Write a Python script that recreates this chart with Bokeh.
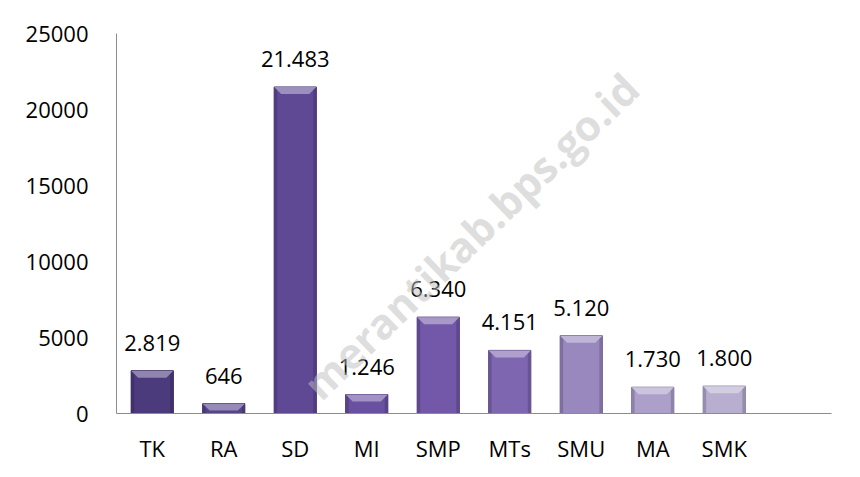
from bokeh.plotting import figure
from bokeh.models import Range1d, FixedTicker, ColumnDataSource, Label
from bokeh.embed import file_html
from bokeh.resources import INLINE
from bokeh.core.properties import value
import math

categories = ["TK", "RA", "SD", "MI", "SMP", "MTs", "SMU", "MA", "SMK"]
values = [2819, 646, 21483, 1246, 6340, 4151, 5120, 1730, 1800]
y_ticks = [0, 5000, 10000, 15000, 20000, 25000]
bar_colors = ["#4B3A7C", "#56438A", "#5F4894", "#6950A0", "#7357A8",
              "#7E66B0", "#9888BE", "#ACA0CA", "#B8AED0"]

FONT = "Open Sans"

def mix(hex_c, t, target=(255, 255, 255)):
    r, g, b = int(hex_c[1:3], 16), int(hex_c[3:5], 16), int(hex_c[5:7], 16)
    r = round(r + (target[0] - r) * t)
    g = round(g + (target[1] - g) * t)
    b = round(b + (target[2] - b) * t)
    return "#%02x%02x%02x" % (r, g, b)

n_slots = len(categories) + 1
xs = [i + 0.5 for i in range(len(categories))]
labels = [f"{v:,}".replace(",", ".") for v in values]

p = figure(width=851, height=469, output_backend="svg", toolbar_location=None,
           x_range=Range1d(0, n_slots), y_range=Range1d(y_ticks[0], y_ticks[-1]),
           min_border_left=116, min_border_right=20, min_border_top=33,
           min_border_bottom=56)
p.outline_line_color = None
p.xgrid.visible = False
p.ygrid.visible = False
p.background_fill_color = "white"
p.border_fill_color = "white"

bar_w = 0.59
src = ColumnDataSource(dict(x=xs, top=values, color=bar_colors,
                            edge=[mix(c, 0.35, (20, 10, 40)) for c in bar_colors],
                            label=labels))
p.vbar(x="x", top="top", bottom=0, width=bar_w, fill_color="color",
       line_color="edge", line_width=1, source=src)

# bevel: side shading and lighter top facet
px_y = (y_ticks[-1] - y_ticks[0]) / 380.0
px_x = 1.0 / 71.5
bev_h = 7 * px_y
bev_w = 7 * px_x
side_xs, side_ys, side_c = [], [], []
top_xs, top_ys, top_c = [], [], []
for x, v, c in zip(xs, values, bar_colors):
    l, r = x - bar_w / 2, x + bar_w / 2
    h = min(bev_h, v * 0.7)
    w = min(bev_w, bar_w / 2)
    top_xs.append([l, r, r - w, l + w])
    top_ys.append([v, v, v - h, v - h])
    top_c.append(mix(c, 0.38))
    side_xs.append([l, l + 3 * px_x, l + 3 * px_x, l])
    side_ys.append([0, 0, v, v])
    side_c.append(mix(c, 0.2, (20, 10, 40)))
    side_xs.append([r - 3 * px_x, r, r, r - 3 * px_x])
    side_ys.append([0, 0, v, v])
    side_c.append(mix(c, 0.2, (20, 10, 40)))
p.patches(side_xs, side_ys, fill_color=side_c, line_color=None)
p.patches(top_xs, top_ys, fill_color=top_c, line_color=None)

p.text(x="x", y="top", text="label", source=src, text_align="center",
       text_baseline="alphabetic", y_offset=-28, text_font=value(FONT),
       text_font_size="22px", text_color="black")

# watermark (kept inside the plot frame)
wm = Label(x=4.95, y=11700, text="merantikab.bps.go.id", angle=math.radians(44),
           text_align="center", text_baseline="middle", text_font=FONT,
           text_font_size="42px", text_font_style="bold",
           text_color="#bdbdbd", text_alpha=0.5)
p.add_layout(wm)

p.xaxis.ticker = FixedTicker(ticks=xs)
p.xaxis.major_label_overrides = {x: c for x, c in zip(xs, categories)}
p.yaxis.ticker = FixedTicker(ticks=y_ticks)
for ax in (p.xaxis[0], p.yaxis[0]):
    ax.axis_line_color = "#8c8c8c"
    ax.axis_line_width = 1
    ax.major_tick_line_color = None
    ax.minor_tick_line_color = None
    ax.major_label_text_font = FONT
    ax.major_label_text_font_size = "22px"
    ax.major_label_text_color = "black"
p.xaxis.major_label_standoff = 13
p.yaxis.major_label_standoff = 22

open("out.html", "w").write(file_html(p, INLINE))
